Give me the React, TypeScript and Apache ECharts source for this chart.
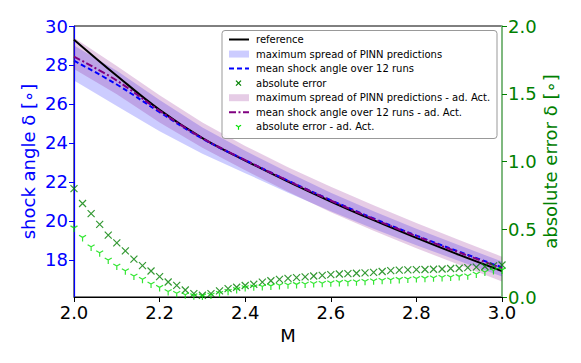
import React, { useEffect, useRef } from "react";
import * as echarts from "echarts";

// Coarse Mach grid for the curves and spread bands
const machCoarse = [2.0, 2.1, 2.2, 2.3, 2.4, 2.5, 2.6, 2.7, 2.8, 2.9, 3.0];
const referenceAngle = [29.3, 27.45, 25.7, 24.25, 23.1, 22.02, 21.0, 20.04, 19.13, 18.26, 17.43];
const meanAngle = [28.22, 27.0, 25.58, 24.22, 23.12, 22.07, 21.07, 20.13, 19.25, 18.42, 17.62];
const meanAngleAdAct = [28.43, 27.2, 25.65, 24.25, 23.12, 22.06, 21.05, 20.1, 19.22, 18.38, 17.58];
const spreadUpper = [29.0, 27.7, 26.2, 24.8, 23.6, 22.5, 21.45, 20.5, 19.6, 18.75, 17.92];
const spreadLower = [27.2, 25.9, 24.6, 23.45, 22.45, 21.45, 20.5, 19.6, 18.75, 17.95, 17.15];
const spreadUpperAdAct = [29.4, 27.95, 26.45, 25.05, 23.85, 22.75, 21.75, 20.8, 19.9, 19.02, 18.17];
const spreadLowerAdAct = [27.8, 26.5, 25.05, 23.75, 22.6, 21.5, 20.45, 19.5, 18.6, 17.75, 16.89];

// Fine Mach grid for the absolute errors
const machFine = [
  2.0, 2.02, 2.04, 2.06, 2.08, 2.1, 2.12, 2.14, 2.16, 2.18,
  2.2, 2.22, 2.24, 2.26, 2.28, 2.3, 2.32, 2.34, 2.36, 2.38,
  2.4, 2.42, 2.44, 2.46, 2.48, 2.5, 2.52, 2.54, 2.56, 2.58,
  2.6, 2.62, 2.64, 2.66, 2.68, 2.7, 2.72, 2.74, 2.76, 2.78,
  2.8, 2.82, 2.84, 2.86, 2.88, 2.9, 2.92, 2.94, 2.96, 2.98, 3.0,
];
const absError = [
  0.8, 0.69, 0.615, 0.536, 0.457, 0.4, 0.34, 0.28, 0.231, 0.192,
  0.15, 0.111, 0.086, 0.052, 0.025, 0.013, 0.025, 0.045, 0.062, 0.072,
  0.085, 0.094, 0.11, 0.12, 0.13, 0.138, 0.143, 0.148, 0.155, 0.16,
  0.165, 0.17, 0.172, 0.175, 0.178, 0.182, 0.188, 0.195, 0.198, 0.2,
  0.202, 0.203, 0.205, 0.207, 0.21, 0.212, 0.217, 0.22, 0.225, 0.23, 0.236,
];
const absErrorAdAct = [
  0.51, 0.44, 0.37, 0.327, 0.273, 0.229, 0.194, 0.155, 0.131, 0.096,
  0.071, 0.04, 0.028, 0.017, 0.01, 0.008, 0.015, 0.028, 0.042, 0.056,
  0.07, 0.075, 0.078, 0.082, 0.086, 0.09, 0.093, 0.096, 0.1, 0.102,
  0.105, 0.108, 0.11, 0.113, 0.116, 0.12, 0.123, 0.127, 0.13, 0.133,
  0.136, 0.139, 0.142, 0.145, 0.148, 0.152, 0.157, 0.17, 0.185, 0.195, 0.2,
];

const leftTicks = [18, 20, 22, 24, 26, 28, 30];
const legendLabels = [
  "reference",
  "maximum spread of PINN predictions",
  "mean shock angle over 12 runs",
  "absolute error",
  "maximum spread of PINN predictions - ad. Act.",
  "mean shock angle over 12 runs - ad. Act.",
  "absolute error - ad. Act.",
];

const FONT = "DejaVu Sans";
const BLUE_BAND = "rgba(0,0,255,0.2)";
const PURPLE_BAND = "rgba(128,0,128,0.2)";
const DARK_GREEN = "#008000";
const LIME = "#00e000";

const X_PATH = "path://M0,0L10,10M0,10L10,0";
const Y_PATH = "path://M5,6L5,11M5,6L0.67,3.5M5,6L9.33,3.5";

function band(name: string, upper: number[], lower: number[], color: string) {
  return {
    type: "custom",
    name,
    xAxisIndex: 0,
    yAxisIndex: 0,
    silent: true,
    z: 1,
    data: machCoarse.map((m, i) => [m, upper[i], lower[i]]),
    encode: { x: 0, y: [1, 2] },
    renderItem: (params: any, api: any) => {
      if (params.dataIndex !== 0) return null;
      const pts: number[][] = [];
      for (let i = 0; i < machCoarse.length; i++) pts.push(api.coord([machCoarse[i], upper[i]]));
      for (let i = machCoarse.length - 1; i >= 0; i--) pts.push(api.coord([machCoarse[i], lower[i]]));
      return { type: "polygon", shape: { points: pts }, style: { fill: color } };
    },
  };
}

function legendGraphics() {
  const els: any[] = [];
  const left = 222;
  const top = 30.5;
  els.push({
    type: "rect",
    shape: { x: left, y: top, width: 275, height: 108, r: 3 },
    style: { fill: "rgba(255,255,255,0.85)", stroke: "#999", lineWidth: 1 },
    z: 100,
  });
  const x0 = 229, x1 = 249, cx = 238.5, tx = 256;
  legendLabels.forEach((label, i) => {
    const y = 39.5 + i * 14.55;
    if (i === 0) els.push({ type: "line", shape: { x1: x0, y1: y, x2: x1, y2: y }, style: { stroke: "#000", lineWidth: 2 }, z: 101 });
    if (i === 1) els.push({ type: "rect", shape: { x: x0, y: y - 3.5, width: 20, height: 7 }, style: { fill: BLUE_BAND }, z: 101 });
    if (i === 2) els.push({ type: "line", shape: { x1: x0, y1: y, x2: x1, y2: y }, style: { stroke: "#0000ff", lineWidth: 2, lineDash: [5, 3] }, z: 101 });
    if (i === 3) {
      els.push({ type: "line", shape: { x1: cx - 2.5, y1: y - 2.5, x2: cx + 2.5, y2: y + 2.5 }, style: { stroke: DARK_GREEN, lineWidth: 1.2 }, z: 101 });
      els.push({ type: "line", shape: { x1: cx - 2.5, y1: y + 2.5, x2: cx + 2.5, y2: y - 2.5 }, style: { stroke: DARK_GREEN, lineWidth: 1.2 }, z: 101 });
    }
    if (i === 4) els.push({ type: "rect", shape: { x: x0, y: y - 3.5, width: 20, height: 7 }, style: { fill: PURPLE_BAND }, z: 101 });
    if (i === 5) els.push({ type: "line", shape: { x1: x0, y1: y, x2: x1, y2: y }, style: { stroke: "#800080", lineWidth: 2, lineDash: [7, 2.5, 2, 2.5] }, z: 101 });
    if (i === 6) {
      els.push({ type: "line", shape: { x1: cx, y1: y, x2: cx, y2: y + 3 }, style: { stroke: LIME, lineWidth: 1.2 }, z: 101 });
      els.push({ type: "line", shape: { x1: cx, y1: y, x2: cx - 2.6, y2: y - 1.5 }, style: { stroke: LIME, lineWidth: 1.2 }, z: 101 });
      els.push({ type: "line", shape: { x1: cx, y1: y, x2: cx + 2.6, y2: y - 1.5 }, style: { stroke: LIME, lineWidth: 1.2 }, z: 101 });
    }
    els.push({
      type: "text",
      x: tx,
      y,
      style: { text: label, fill: "#000", font: `10px "${FONT}"`, textVerticalAlign: "middle", verticalAlign: "middle" },
      z: 101,
    });
  });
  return els;
}

export default function App() {
  const ref = useRef<HTMLDivElement>(null);
  useEffect(() => {
    document.body.style.margin = "0";
    if (!ref.current) return;
    const chart = echarts.init(ref.current, null, { renderer: "svg" });
    const coarse = (vals: number[]) => machCoarse.map((m, i) => [m, vals[i]]);
    const fine = (vals: number[]) => machFine.map((m, i) => [m, vals[i]]);
    chart.setOption({
      animation: false,
      textStyle: { fontFamily: FONT },
      grid: { left: 74, right: 79, top: 26, bottom: 66, show: true, borderColor: "#000", borderWidth: 1, backgroundColor: "transparent" },
      xAxis: {
        type: "value",
        min: 2,
        max: 3,
        interval: 0.2,
        name: "M",
        nameLocation: "middle",
        nameGap: 29,
        nameTextStyle: { fontSize: 18, color: "#000", fontFamily: FONT },
        axisLine: { lineStyle: { color: "#000", width: 1 } },
        axisTick: { show: true, inside: false, length: 5, lineStyle: { color: "#000" } },
        axisLabel: { fontSize: 18, color: "#000", fontFamily: FONT, margin: 6, formatter: (v: number) => v.toFixed(1) },
        splitLine: { show: false },
      },
      yAxis: [
        {
          type: "value",
          position: "left",
          min: 16.1,
          max: 30,
          name: "shock angle δ [∘]",
          nameLocation: "middle",
          nameGap: 37,
          nameMoveOverlap: false,
          nameTextStyle: { fontSize: 18, color: "#0000ff", fontFamily: FONT },
          axisLine: { show: true, lineStyle: { color: "#0000ff", width: 1.2 } },
          axisTick: { show: true, length: 5, lineStyle: { color: "#0000ff" }, customValues: leftTicks },
          axisLabel: { fontSize: 18, color: "#0000ff", fontFamily: FONT, margin: 6, customValues: leftTicks, formatter: (v: number) => String(Math.round(v)) },
          splitLine: { show: false },
        },
        {
          type: "value",
          position: "right",
          min: 0,
          max: 2,
          interval: 0.5,
          name: "absolute error δ [∘]",
          nameLocation: "middle",
          nameGap: 39,
          nameMoveOverlap: false,
          nameRotate: 90,
          nameTextStyle: { fontSize: 18, color: DARK_GREEN, fontFamily: FONT },
          axisLine: { show: true, lineStyle: { color: "#7fbf7f", width: 1.8 } },
          axisTick: { show: true, length: 5, lineStyle: { color: DARK_GREEN } },
          axisLabel: { fontSize: 18, color: DARK_GREEN, fontFamily: FONT, margin: 6, formatter: (v: number) => v.toFixed(1) },
          splitLine: { show: false },
        },
      ],
      series: [
        band("maximum spread of PINN predictions", spreadUpper, spreadLower, BLUE_BAND),
        band("maximum spread of PINN predictions - ad. Act.", spreadUpperAdAct, spreadLowerAdAct, PURPLE_BAND),
        {
          type: "line",
          name: "reference",
          yAxisIndex: 0,
          data: coarse(referenceAngle),
          smooth: 0.4,
          showSymbol: false,
          lineStyle: { color: "#000", width: 2 },
          z: 3,
        },
        {
          type: "line",
          name: "mean shock angle over 12 runs",
          yAxisIndex: 0,
          data: coarse(meanAngle),
          smooth: 0.4,
          showSymbol: false,
          lineStyle: { color: "#0000ff", width: 2, type: [5, 3] },
          z: 4,
        },
        {
          type: "line",
          name: "mean shock angle over 12 runs - ad. Act.",
          yAxisIndex: 0,
          data: coarse(meanAngleAdAct),
          smooth: 0.4,
          showSymbol: false,
          lineStyle: { color: "#800080", width: 2, type: [7, 2.5, 2, 2.5] },
          z: 4,
        },
        {
          type: "scatter",
          name: "absolute error",
          yAxisIndex: 1,
          data: fine(absError),
          symbol: X_PATH,
          symbolSize: 7,
          itemStyle: { color: "rgba(0,0,0,0)", borderColor: DARK_GREEN, borderWidth: 1.2 },
          z: 5,
        },
        {
          type: "scatter",
          name: "absolute error - ad. Act.",
          yAxisIndex: 1,
          data: fine(absErrorAdAct),
          symbol: Y_PATH,
          symbolSize: 7,
          symbolKeepAspect: true,
          symbolOffset: [0, 1],
          itemStyle: { color: "rgba(0,0,0,0)", borderColor: LIME, borderWidth: 1.2 },
          z: 5,
        },
      ],
      graphic: legendGraphics(),
    });
    return () => chart.dispose();
  }, []);
  return <div ref={ref} style={{ width: 581, height: 363 }} />;
}
